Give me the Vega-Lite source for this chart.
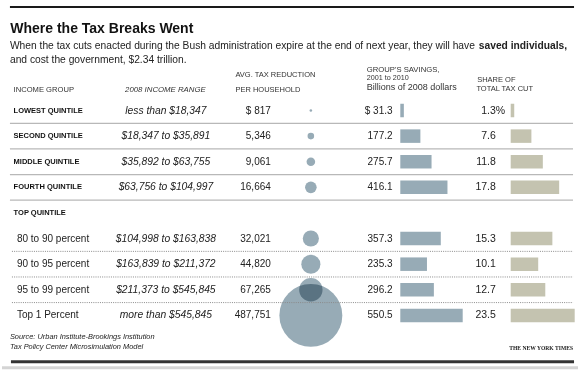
{
  "$schema": "https://vega.github.io/schema/vega-lite/v6.json",
  "width": 580,
  "height": 370,
  "autosize": {"type": "fit", "contains": "padding"},
  "padding": 0,
  "background": "white",
  "config": {"view": {"stroke": null}, "axis": {"disable": true}, "legend": {"disable": true}},
  "layer": [
    {
      "data": {"values": [{}]},
      "layer": [
        {"mark": {"type": "rule", "color": "#1a1a1a", "strokeWidth": 2},
         "encoding": {"x": {"datum": 8, "type": "quantitative", "scale": {"domain": [0, 580], "nice": false, "zero": false}, "axis": null},
                      "x2": {"datum": 576},
                      "y": {"datum": 7, "type": "quantitative", "scale": {"domain": [0, 370], "reverse": true, "nice": false, "zero": false}, "axis": null}}},
        {"mark": {"type": "rule", "color": "#333333", "strokeWidth": 3},
         "encoding": {"x": {"datum": 9, "type": "quantitative"}, "x2": {"datum": 576}, "y": {"datum": 362.7, "type": "quantitative"}}},
        {"mark": {"type": "rule", "color": "#d4d4d4", "strokeWidth": 3},
         "encoding": {"x": {"datum": 0, "type": "quantitative"}, "x2": {"datum": 580}, "y": {"datum": 368.7, "type": "quantitative"}}},
        {"mark": {"type": "text", "text": "Where the Tax Breaks Went", "font": "Liberation Sans", "fontSize": 14, "fontWeight": "bold", "align": "left", "baseline": "middle", "color": "#111"},
         "encoding": {"x": {"datum": 8.3, "type": "quantitative"}, "y": {"datum": 28.7, "type": "quantitative"}}},
        {"mark": {"type": "text", "text": "When the tax cuts enacted during the Bush administration expire at the end of next year, they will have", "font": "Liberation Sans", "fontSize": 10.25, "align": "left", "baseline": "middle", "color": "#222"},
         "encoding": {"x": {"datum": 8, "type": "quantitative"}, "y": {"datum": 46.5, "type": "quantitative"}}},
        {"mark": {"type": "text", "text": "saved individuals,", "font": "Liberation Sans", "fontSize": 10.25, "fontWeight": "bold", "align": "right", "baseline": "middle", "color": "#222"},
         "encoding": {"x": {"datum": 569, "type": "quantitative"}, "y": {"datum": 46.5, "type": "quantitative"}}},
        {"mark": {"type": "text", "text": "and cost the government, $2.34 trillion.", "font": "Liberation Sans", "fontSize": 10.25, "align": "left", "baseline": "middle", "color": "#222"},
         "encoding": {"x": {"datum": 8, "type": "quantitative"}, "y": {"datum": 60.5, "type": "quantitative"}}},
        {"mark": {"type": "text", "text": "INCOME GROUP", "font": "Liberation Sans", "fontSize": 7.6, "align": "left", "baseline": "middle", "color": "#333"},
         "encoding": {"x": {"datum": 11.7, "type": "quantitative"}, "y": {"datum": 90, "type": "quantitative"}}},
        {"mark": {"type": "text", "text": "2008 INCOME RANGE", "font": "Liberation Sans", "fontSize": 7.8, "fontStyle": "italic", "align": "center", "baseline": "middle", "color": "#333"},
         "encoding": {"x": {"datum": 164.5, "type": "quantitative"}, "y": {"datum": 90, "type": "quantitative"}}},
        {"mark": {"type": "text", "text": "AVG. TAX REDUCTION", "font": "Liberation Sans", "fontSize": 7.5, "align": "left", "baseline": "middle", "color": "#333"},
         "encoding": {"x": {"datum": 235, "type": "quantitative"}, "y": {"datum": 75, "type": "quantitative"}}},
        {"mark": {"type": "text", "text": "PER HOUSEHOLD", "font": "Liberation Sans", "fontSize": 7.5, "align": "left", "baseline": "middle", "color": "#333"},
         "encoding": {"x": {"datum": 235, "type": "quantitative"}, "y": {"datum": 90, "type": "quantitative"}}},
        {"mark": {"type": "text", "text": "GROUP'S SAVINGS,", "font": "Liberation Sans", "fontSize": 7.7, "align": "left", "baseline": "middle", "color": "#333"},
         "encoding": {"x": {"datum": 367.3, "type": "quantitative"}, "y": {"datum": 70, "type": "quantitative"}}},
        {"mark": {"type": "text", "text": "2001 to 2010", "font": "Liberation Sans", "fontSize": 7.2, "align": "left", "baseline": "middle", "color": "#333"},
         "encoding": {"x": {"datum": 367.3, "type": "quantitative"}, "y": {"datum": 78.3, "type": "quantitative"}}},
        {"mark": {"type": "text", "text": "Billions of 2008 dollars", "font": "Liberation Sans", "fontSize": 9, "align": "left", "baseline": "middle", "color": "#333"},
         "encoding": {"x": {"datum": 367.3, "type": "quantitative"}, "y": {"datum": 87, "type": "quantitative"}}},
        {"mark": {"type": "text", "text": "SHARE OF", "font": "Liberation Sans", "fontSize": 7.5, "align": "left", "baseline": "middle", "color": "#333"},
         "encoding": {"x": {"datum": 478.5, "type": "quantitative"}, "y": {"datum": 80, "type": "quantitative"}}},
        {"mark": {"type": "text", "text": "TOTAL TAX CUT", "font": "Liberation Sans", "fontSize": 7.5, "align": "left", "baseline": "middle", "color": "#333"},
         "encoding": {"x": {"datum": 477.7, "type": "quantitative"}, "y": {"datum": 89.5, "type": "quantitative"}}},
        {"mark": {"type": "text", "text": "Source: Urban Institute-Brookings Institution", "font": "Liberation Sans", "fontSize": 7.4, "fontStyle": "italic", "align": "left", "baseline": "middle", "color": "#222"},
         "encoding": {"x": {"datum": 8, "type": "quantitative"}, "y": {"datum": 337.7, "type": "quantitative"}}},
        {"mark": {"type": "text", "text": "Tax Policy Center Microsimulation Model", "font": "Liberation Sans", "fontSize": 7.4, "fontStyle": "italic", "align": "left", "baseline": "middle", "color": "#222"},
         "encoding": {"x": {"datum": 8, "type": "quantitative"}, "y": {"datum": 347.7, "type": "quantitative"}}},
        {"mark": {"type": "text", "text": "THE NEW YORK TIMES", "font": "Liberation Serif", "fontSize": 5.6, "fontWeight": "bold", "align": "right", "baseline": "middle", "color": "#222"},
         "encoding": {"x": {"datum": 575, "type": "quantitative"}, "y": {"datum": 349, "type": "quantitative"}}}
      ]
    },
    {
      "data": {"values": [
        {"group": "LOWEST QUINTILE", "section": "quintile", "range": "less than $18,347", "avg": 817, "avgLabel": "$ 817", "savings": 31.3, "savingsLabel": "$ 31.3", "share": 1.3, "shareLabel": "1.3", "suffix": "%"},
        {"group": "SECOND QUINTILE", "section": "quintile", "range": "$18,347 to $35,891", "avg": 5346, "avgLabel": "5,346", "savings": 177.2, "savingsLabel": "177.2", "share": 7.6, "shareLabel": "7.6"},
        {"group": "MIDDLE QUINTILE", "section": "quintile", "range": "$35,892 to $63,755", "avg": 9061, "avgLabel": "9,061", "savings": 275.7, "savingsLabel": "275.7", "share": 11.8, "shareLabel": "11.8"},
        {"group": "FOURTH QUINTILE", "section": "quintile", "range": "$63,756 to $104,997", "avg": 16664, "avgLabel": "16,664", "savings": 416.1, "savingsLabel": "416.1", "share": 17.8, "shareLabel": "17.8"},
        {"group": "TOP QUINTILE", "section": "topheader"},
        {"group": "80 to 90 percent", "section": "top", "range": "$104,998 to $163,838", "avg": 32021, "avgLabel": "32,021", "savings": 357.3, "savingsLabel": "357.3", "share": 15.3, "shareLabel": "15.3"},
        {"group": "90 to 95 percent", "section": "top", "range": "$163,839 to $211,372", "avg": 44820, "avgLabel": "44,820", "savings": 235.3, "savingsLabel": "235.3", "share": 10.1, "shareLabel": "10.1"},
        {"group": "95 to 99 percent", "section": "top", "range": "$211,373 to $545,845", "avg": 67265, "avgLabel": "67,265", "savings": 296.2, "savingsLabel": "296.2", "share": 12.7, "shareLabel": "12.7"},
        {"group": "Top 1 Percent", "section": "top", "range": "more than $545,845", "avg": 487751, "avgLabel": "487,751", "savings": 550.5, "savingsLabel": "550.5", "share": 23.5, "shareLabel": "23.5"}
      ]},
      "layer": [
        {
          "layer": [
            {"transform": [{"filter": "isValid(datum.avg)"}],
             "mark": {"type": "circle", "color": "#97abb6", "opacity": 1, "blend": "multiply"},
             "encoding": {"x": {"datum": 311, "type": "quantitative", "scale": {"domain": [0, 580], "nice": false, "zero": false}, "axis": null},
                          "y": {"field": "group", "type": "nominal", "sort": null, "scale": {"domain": ["LOWEST QUINTILE", "SECOND QUINTILE", "MIDDLE QUINTILE", "FOURTH QUINTILE", "TOP QUINTILE", "80 to 90 percent", "90 to 95 percent", "95 to 99 percent", "Top 1 Percent"], "range": [97.7, 328.2], "paddingInner": 0, "paddingOuter": 0}, "axis": null},
                          "size": {"field": "avg", "type": "quantitative", "scale": {"type": "linear", "domain": [0, 487751], "range": [0, 3960], "zero": true, "nice": false}, "legend": null}}},
            {"transform": [{"filter": "datum.section === 'quintile' || datum.section === 'topheader'"}],
             "mark": {"type": "text", "font": "Liberation Sans", "fontSize": 7.5, "fontWeight": "bold", "align": "left", "baseline": "middle", "color": "#111"},
             "encoding": {"x": {"datum": 11.7, "type": "quantitative"}, "y": {"field": "group", "type": "nominal", "sort": null}, "text": {"field": "group"}}},
            {"transform": [{"filter": "datum.section === 'top'"}],
             "mark": {"type": "text", "font": "Liberation Sans", "fontSize": 10, "align": "left", "baseline": "middle", "color": "#222"},
             "encoding": {"x": {"datum": 15, "type": "quantitative"}, "y": {"field": "group", "type": "nominal", "sort": null}, "text": {"field": "group"}}},
            {"transform": [{"filter": "isValid(datum.range)"}],
             "mark": {"type": "text", "font": "Liberation Sans", "fontSize": 10.3, "fontStyle": "italic", "align": "center", "baseline": "middle", "color": "#222"},
             "encoding": {"x": {"datum": 165, "type": "quantitative"}, "y": {"field": "group", "type": "nominal", "sort": null}, "text": {"field": "range"}}},
            {"transform": [{"filter": "isValid(datum.avgLabel)"}],
             "mark": {"type": "text", "font": "Liberation Sans", "fontSize": 10, "align": "right", "baseline": "middle", "color": "#222"},
             "encoding": {"x": {"datum": 270.7, "type": "quantitative"}, "y": {"field": "group", "type": "nominal", "sort": null}, "text": {"field": "avgLabel"}}},
            {"transform": [{"filter": "isValid(datum.savingsLabel)"}],
             "mark": {"type": "text", "font": "Liberation Sans", "fontSize": 10, "align": "right", "baseline": "middle", "color": "#222"},
             "encoding": {"x": {"datum": 393.3, "type": "quantitative"}, "y": {"field": "group", "type": "nominal", "sort": null}, "text": {"field": "savingsLabel"}}},
            {"transform": [{"filter": "isValid(datum.shareLabel)"}],
             "mark": {"type": "text", "font": "Liberation Sans", "fontSize": 10.5, "align": "right", "baseline": "middle", "color": "#222"},
             "encoding": {"x": {"datum": 497.3, "type": "quantitative"}, "y": {"field": "group", "type": "nominal", "sort": null}, "text": {"field": "shareLabel"}}},
            {"transform": [{"filter": "isValid(datum.suffix)"}],
             "mark": {"type": "text", "font": "Liberation Sans", "fontSize": 10.5, "align": "left", "baseline": "middle", "color": "#222"},
             "encoding": {"x": {"datum": 497.3, "type": "quantitative"}, "y": {"field": "group", "type": "nominal", "sort": null}, "text": {"field": "suffix"}}},
            {"transform": [{"filter": "datum.section === 'quintile'"}],
             "mark": {"type": "rule", "color": "#b8b8b8", "strokeWidth": 1.3},
             "encoding": {"x": {"datum": 8, "type": "quantitative"}, "x2": {"datum": 575}, "y": {"field": "group", "type": "nominal", "sort": null, "bandPosition": 1}}},
            {"transform": [{"filter": "datum.section === 'top' && datum.group !== 'Top 1 Percent'"}],
             "mark": {"type": "rule", "color": "#8a8a8a", "strokeWidth": 1, "strokeDash": [1, 1.2]},
             "encoding": {"x": {"datum": 10, "type": "quantitative"}, "x2": {"datum": 575}, "y": {"field": "group", "type": "nominal", "sort": null, "bandPosition": 1}}}
          ]
        },
        {"transform": [{"filter": "isValid(datum.savings)"}],
         "mark": {"type": "bar", "color": "#97abb6", "size": 13.5},
         "encoding": {"x": {"field": "savings", "type": "quantitative", "scale": {"domain": [0, 550.5], "range": [398.3, 460.7], "nice": false, "zero": true}, "axis": null},
                      "y": {"field": "group", "type": "nominal", "sort": null, "axis": null}}},
        {"transform": [{"filter": "isValid(datum.share)"}],
         "mark": {"type": "bar", "color": "#c4c3b0", "size": 13.5},
         "encoding": {"x": {"field": "share", "type": "quantitative", "scale": {"domain": [0, 23.5], "range": [508.7, 572.7], "nice": false, "zero": true}, "axis": null},
                      "y": {"field": "group", "type": "nominal", "sort": null, "axis": null}}}
      ],
      "resolve": {"scale": {"x": "independent"}}
    }
  ],
  "resolve": {"scale": {"x": "independent", "y": "independent"}}
}
